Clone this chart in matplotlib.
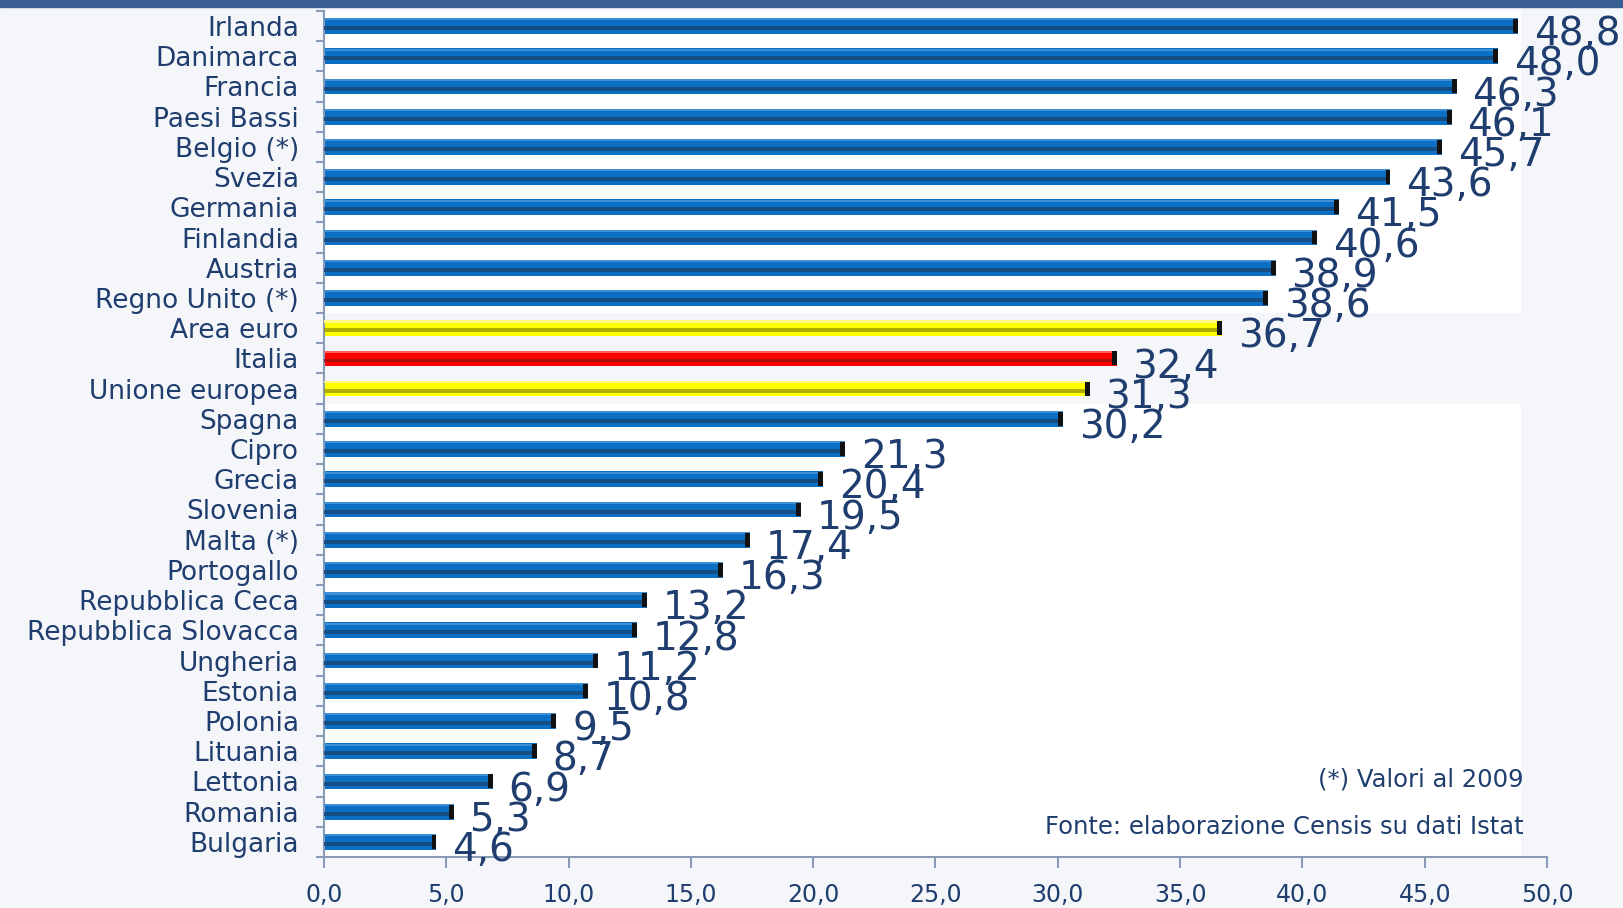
import numpy as np
import matplotlib.pyplot as plt
from matplotlib.patches import Rectangle

countries = ['Irlanda', 'Danimarca', 'Francia', 'Paesi Bassi', 'Belgio (*)', 'Svezia',
             'Germania', 'Finlandia', 'Austria', 'Regno Unito (*)', 'Area euro', 'Italia',
             'Unione europea', 'Spagna', 'Cipro', 'Grecia', 'Slovenia', 'Malta (*)',
             'Portogallo', 'Repubblica Ceca', 'Repubblica Slovacca', 'Ungheria', 'Estonia',
             'Polonia', 'Lituania', 'Lettonia', 'Romania', 'Bulgaria']
values = [48.8, 48.0, 46.3, 46.1, 45.7, 43.6, 41.5, 40.6, 38.9, 38.6, 36.7, 32.4,
          31.3, 30.2, 21.3, 20.4, 19.5, 17.4, 16.3, 13.2, 12.8, 11.2, 10.8, 9.5,
          8.7, 6.9, 5.3, 4.6]
highlight = {'Area euro': 'yellow', 'Unione europea': 'yellow', 'Italia': 'red'}
xticks = [0, 5, 10, 15, 20, 25, 30, 35, 40, 45, 50]

TXT = '#1f3d6e'
BG = '#f4f6f9'
STYLES = {'blue': ('#0b6fc4', '#17497a', '#3d8fd6'),
          'yellow': ('#ffff00', '#a39d00', '#fffb80'),
          'red': ('#ff0000', '#9e1010', '#ff6060')}


def fmt(v):
    return f"{v:.1f}".replace('.', ',')


def plot():
    n = len(countries)
    y = np.arange(n)
    fig = plt.figure(figsize=(16.23, 9.08), dpi=100, facecolor=BG)
    fig.patches.append(Rectangle((0, 0.992), 1, 0.008, transform=fig.transFigure,
                                 color='#3a5f92', zorder=0))
    ax = fig.add_axes([0.1996, 0.0562, 0.7536, 0.9318])
    ax.set_facecolor(BG)

    # white plot area except the highlighted rows
    for i, c in enumerate(countries):
        if c not in highlight:
            ax.fill_between([0, 48.95], i - 0.5, i + 0.5, color='white', lw=0, zorder=0)

    for i, (c, v) in enumerate(zip(countries, values)):
        base, dark, light = STYLES[highlight.get(c, 'blue')]
        ax.barh(i, v, height=0.52, color=base, zorder=2)
        ax.barh(i - 0.22, v, height=0.07, color=light, zorder=3)
        ax.barh(i + 0.07, v, height=0.13, color=dark, alpha=0.85, zorder=3)
        ax.barh(i, 0.2, left=v - 0.2, height=0.46, color='#111111', zorder=4)
        ax.text(v + 0.65, i + 0.27, fmt(v), fontsize=28, color=TXT,
                va='center', ha='left', zorder=5)

    ax.set_xlim(0, 50)
    ax.set_ylim(n - 0.5, -0.5)
    ax.set_xticks(xticks)
    ax.set_xticklabels([fmt(t) for t in xticks], fontsize=17, color=TXT)
    ax.set_yticks(y)
    ax.set_yticklabels(countries, fontsize=19, color=TXT)
    ax.set_yticks(np.arange(n + 1) - 0.5, minor=True)
    ax.tick_params(axis='y', which='major', length=0, pad=18)
    ax.tick_params(axis='y', which='minor', length=6, color='#8a9bb8', width=1.5)
    ax.tick_params(axis='x', length=8, color='#8a9bb8', width=1.5, pad=11)
    for s in ['top', 'right']:
        ax.spines[s].set_visible(False)
    for s in ['left', 'bottom']:
        ax.spines[s].set_color('#8a9bb8')
        ax.spines[s].set_linewidth(1.5)

    ax.text(49.05, n - 3.05, '(*) Valori al 2009', fontsize=17.5, color=TXT,
            ha='right', va='center', zorder=5)
    ax.text(49.05, n - 1.5, 'Fonte: elaborazione Censis su dati Istat', fontsize=17.5,
            color=TXT, ha='right', va='center', zorder=5)

    fig.savefig('out.png', dpi=100, facecolor=BG)


def main():
    plot()
    return 0


if __name__ == "__main__":
    main()
